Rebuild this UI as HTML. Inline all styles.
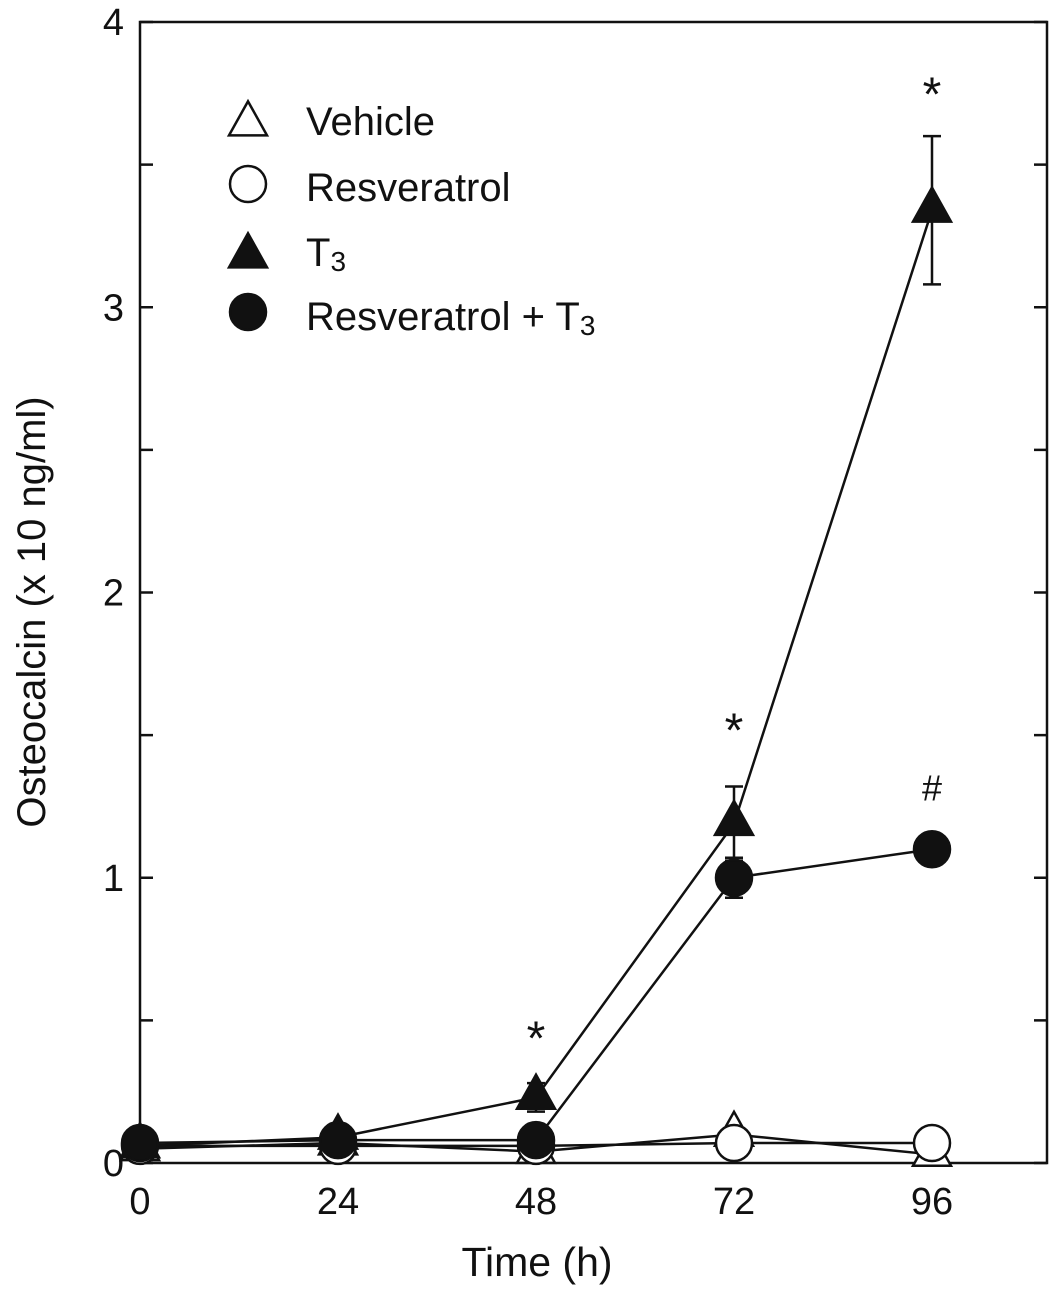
<!DOCTYPE html>
<html><head><meta charset="utf-8"><style>
body{margin:0;background:#fff}
svg text{font-family:"Liberation Sans",Arial,sans-serif;fill:#111}
</style></head><body>
<svg id="chart" width="1061" height="1296" xmlns="http://www.w3.org/2000/svg">
<g id="frame"></g><g id="series"></g><g id="legend"></g>
</svg>
<script>
const times=[0,24,48,72,96];
const vehicle=[0.05,0.07,0.04,0.10,0.03];
const resveratrol=[0.06,0.06,0.06,0.07,0.07];
const t3=[0.06,0.09,0.23,1.19,3.34];
const t3Err=[0,0.02,0.05,0.13,0.26];
const resT3=[0.07,0.08,0.08,1.0,1.1];
const resT3Err=[0,0,0,0.07,0];
const yTicks=[0,1,2,3,4];
const marks=[{x:48,y:0.38,t:"*"},{x:72,y:1.46,t:"*"},{x:96,y:3.69,t:"*"},{x:96,y:1.27,t:"#"}];

const L=140,R=1047,T=22,B=1163;
const xs=t=>L+(t/96)*(932-L);
const ys=v=>B-v*(B-T)/4;
const NS="http://www.w3.org/2000/svg";
function mk(tag,attrs,parent,name){const e=document.createElementNS(NS,tag);for(const k in attrs)e.setAttribute(k,attrs[k]);


parent.appendChild(e);return e;}
const fr=document.getElementById('frame'),se=document.getElementById('series'),lg=document.getElementById('legend');
mk('rect',{x:L,y:T,width:R-L,height:B-T,fill:'none',stroke:'#111','stroke-width':2.5},fr,'plot-frame');
for(let v=0;v<=4;v+=0.5){const y=ys(v);
mk('line',{x1:L,x2:L+13,y1:y,y2:y,stroke:'#111','stroke-width':2.5},fr,'y-tick');
mk('line',{x1:R,x2:R-13,y1:y,y2:y,stroke:'#111','stroke-width':2.5},fr,'y-tick-right');}
yTicks.forEach(v=>{const t=mk('text',{x:L-16,y:ys(v)+13,'text-anchor':'end','font-size':38},fr,'y-tick-label');t.textContent=v;});
times.forEach(v=>{const t=mk('text',{x:xs(v),y:1214,'text-anchor':'middle','font-size':38},fr,'x-tick-label');t.textContent=v;});
let xt=mk('text',{x:537,y:1276,'text-anchor':'middle','font-size':41},fr,'x-axis-title');xt.textContent='Time (h)';
let yt=mk('text',{x:0,y:0,'text-anchor':'middle','font-size':40,transform:'translate(45,612) rotate(-90)'},fr,'y-axis-title');yt.textContent='Osteocalcin (x 10 ng/ml)';

function tri(cx,cy,fill,p,name){const h=34,w=38;mk('polygon',{points:`${cx-w/2},${cy+h/3} ${cx+w/2},${cy+h/3} ${cx},${cy-2*h/3}`,fill:fill,stroke:'#111','stroke-width':2.5},p,name);}
function circ(cx,cy,fill,p,name){mk('circle',{cx:cx,cy:cy,r:18,fill:fill,stroke:'#111','stroke-width':2.5},p,name);}
function line(vals,name){mk('polyline',{points:vals.map((v,i)=>xs(times[i])+','+ys(v)).join(' '),fill:'none',stroke:'#111','stroke-width':2.5},se,name);}
function err(vals,errs,name){vals.forEach((v,i)=>{if(!errs[i])return;const x=xs(times[i]);
mk('line',{x1:x,x2:x,y1:ys(v+errs[i]),y2:ys(v-errs[i]),stroke:'#111','stroke-width':2.5},se,name);
[v+errs[i],v-errs[i]].forEach(e=>mk('line',{x1:x-9,x2:x+9,y1:ys(e),y2:ys(e),stroke:'#111','stroke-width':2.5},se,name+'-cap'));});}
line(vehicle,'vehicle-line');line(resveratrol,'resveratrol-line');line(t3,'t3-line');line(resT3,'resveratrol-t3-line');
err(t3,t3Err,'t3-error-bar');err(resT3,resT3Err,'resveratrol-t3-error-bar');
vehicle.forEach((v,i)=>tri(xs(times[i]),ys(v),'#fff',se,'vehicle-point'));
t3.forEach((v,i)=>tri(xs(times[i]),ys(v),'#111',se,'t3-point'));
resveratrol.forEach((v,i)=>circ(xs(times[i]),ys(v),'#fff',se,'resveratrol-point'));
resT3.forEach((v,i)=>circ(xs(times[i]),ys(v),'#111',se,'resveratrol-t3-point'));
marks.forEach(m=>{const t=mk('text',{x:xs(m.x),y:ys(m.y),'text-anchor':'middle','font-size':m.t=='*'?48:36},se,'significance-mark');t.textContent=m.t;});
// legend
tri(248,124,'#fff',lg,'legend-vehicle-marker');circ(248,184,'#fff',lg,'legend-resveratrol-marker');
tri(248,256,'#111',lg,'legend-t3-marker');circ(248,312,'#111',lg,'legend-resveratrol-t3-marker');
const labs=[['Vehicle',135],['Resveratrol',201],['T<tspan font-size="28" dy="5">3</tspan>',266],['Resveratrol + T<tspan font-size="28" dy="5">3</tspan>',330]];
labs.forEach(l=>{const t=mk('text',{x:306,y:l[1],'font-size':40},lg,'legend-label');t.innerHTML=l[0];});
</script>
</body></html>
